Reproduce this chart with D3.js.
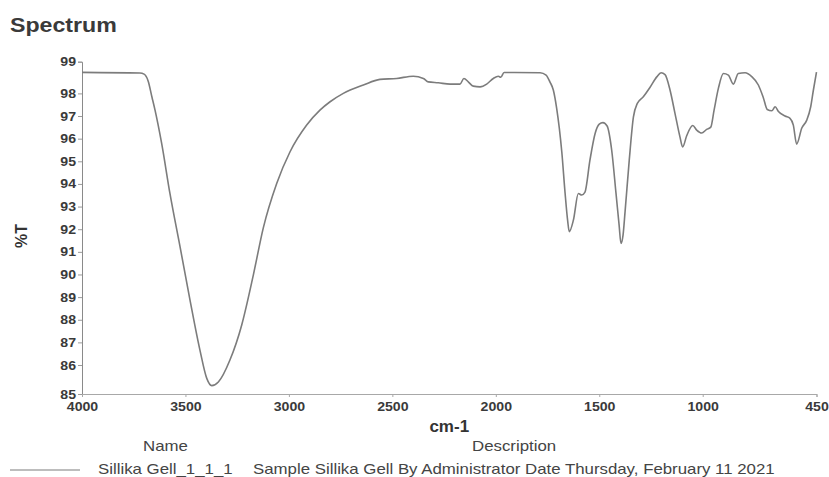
<!DOCTYPE html>
<html>
<head>
<meta charset="utf-8">
<script src="https://cdn.jsdelivr.net/npm/d3@7"></script>
<style>
  html, body { margin: 0; padding: 0; background: #fff; }
  svg { display: block; font-family: "Liberation Sans", Arial, sans-serif; }
</style>
</head>
<body>
<svg id="chart" width="829" height="477"></svg>
<script>
// ---- data ----
const wavenumbers = [4000, 3720, 3700, 3680, 3662, 3647, 3615, 3575, 3526, 3478, 3430, 3397, 3373, 3341, 3285, 3228, 3172, 3124, 3059, 2995, 2914, 2850, 2801, 2737, 2640, 2560, 2479, 2399, 2350, 2326, 2278, 2221, 2173, 2154, 2133, 2109, 2076, 2044, 2012, 1988, 1976, 1960, 1915, 1786, 1757, 1738, 1722, 1706, 1681, 1665, 1653, 1645, 1625, 1601, 1585, 1569, 1545, 1520, 1500, 1482, 1462, 1440, 1419, 1404, 1395, 1385, 1375, 1355, 1335, 1316, 1287, 1255, 1222, 1201, 1182, 1158, 1134, 1110, 1097, 1077, 1048, 1029, 1005, 981, 961, 945, 924, 900, 876, 852, 828, 795, 763, 731, 707, 688, 666, 650, 634, 602, 578, 562, 546, 521, 497, 478, 465, 450];
const transmittance = [98.93, 98.90, 98.85, 98.54, 97.84, 97.26, 95.79, 93.58, 91.22, 88.87, 86.66, 85.41, 85.09, 85.25, 86.22, 87.77, 89.97, 92.05, 94.02, 95.41, 96.60, 97.26, 97.63, 98.00, 98.37, 98.62, 98.66, 98.76, 98.66, 98.51, 98.47, 98.41, 98.41, 98.66, 98.51, 98.32, 98.29, 98.41, 98.66, 98.76, 98.71, 98.92, 98.92, 98.91, 98.81, 98.50, 98.15, 97.35, 95.41, 93.58, 92.40, 91.89, 92.40, 93.58, 93.51, 93.64, 95.05, 96.23, 96.64, 96.71, 96.56, 95.50, 93.58, 92.18, 91.37, 91.74, 92.80, 95.05, 96.95, 97.56, 97.85, 98.26, 98.73, 98.91, 98.83, 98.15, 97.12, 96.08, 95.63, 96.14, 96.58, 96.38, 96.25, 96.41, 96.51, 97.26, 98.23, 98.88, 98.81, 98.41, 98.88, 98.91, 98.74, 98.37, 97.81, 97.29, 97.23, 97.41, 97.20, 97.00, 96.90, 96.60, 95.76, 96.47, 96.82, 97.41, 98.15, 98.94];

const xDomain = [4000, 450];
const yDomain = [84.72, 99.4];
const xTickValues = [4000, 3500, 3000, 2500, 2000, 1500, 1000, 450];
const yTickValues = [84.72, 86, 87, 88, 89, 90, 91, 92, 93, 94, 95, 96, 97, 98, 99.4];
const yTickLabels = ["85", "86", "87", "88", "89", "90", "91", "92", "93", "94", "95", "96", "97", "98", "99"];

const titleText = "Spectrum";
const xAxisTitle = "cm-1";
const yAxisTitle = "%T";
const legendHeaders = ["Name", "Description"];
const legendName = "Sillika Gell_1_1_1";
const legendDescription = "Sample Sillika Gell By Administrator Date Thursday, February 11 2021";

// ---- drawing ----
(function () {
const svg = d3.select("#chart");
const plotLeft = 82, plotRight = 816.5, plotTop = 61.7, plotBottom = 394;
const stretch = 1.13; // the reference text is slightly wide

const x = d3.scaleLinear().domain(xDomain).range([plotLeft, plotRight]);
const y = d3.scaleLinear().domain(yDomain).range([plotBottom, plotTop]);

function wide(sel, k) {
  const f = k || stretch;
  sel.each(function () {
    const len = this.getComputedTextLength();
    d3.select(this).attr("textLength", len * f).attr("lengthAdjust", "spacingAndGlyphs");
  });
}

// title
svg.append("text")
  .attr("x", 10).attr("y", 32)
  .attr("font-size", 20.5).attr("font-weight", "bold").attr("fill", "#3a3a3a")
  .text(titleText).call(wide);

// y axis
const yAxis = d3.axisLeft(y)
  .tickValues(yTickValues)
  .tickFormat((d, i) => yTickLabels[i])
  .tickSize(4).tickPadding(2);
const gy = svg.append("g").attr("transform", `translate(${plotLeft},0)`).call(yAxis);
gy.select(".domain").attr("stroke", "#8a8a8a");
gy.selectAll(".tick line").attr("stroke", "#9a9a9a");
gy.selectAll(".tick text")
  .attr("font-size", 12.5).attr("font-weight", "bold").attr("fill", "#3a3a3a")
  .attr("font-family", "'Liberation Sans', Arial, sans-serif")
  .call(wide);

// x axis
const xAxis = d3.axisBottom(x)
  .tickValues(xTickValues)
  .tickFormat(d3.format("d"))
  .tickSize(3).tickPadding(5);
const gx = svg.append("g").attr("transform", `translate(0,${plotBottom})`).call(xAxis);
gx.select(".domain").attr("stroke", "#a8a8a8");
gx.selectAll(".tick line").attr("stroke", "#a8a8a8");
gx.selectAll(".tick text")
  .attr("font-size", 12.5).attr("font-weight", "bold").attr("fill", "#3a3a3a")
  .attr("font-family", "'Liberation Sans', Arial, sans-serif")
  .call(wide);

// axis titles
svg.append("text")
  .attr("x", (plotLeft + plotRight) / 2).attr("y", 432)
  .attr("text-anchor", "middle")
  .attr("font-size", 17).attr("font-weight", "bold").attr("fill", "#333")
  .text(xAxisTitle);

svg.append("text")
  .attr("transform", "translate(27,236) rotate(-90)")
  .attr("text-anchor", "middle")
  .attr("font-size", 16).attr("font-weight", "bold").attr("fill", "#333")
  .text(yAxisTitle);

// spectrum line
const pts = wavenumbers.map((w, i) => [w, transmittance[i]]);
const line = d3.line()
  .x(d => x(d[0]))
  .y(d => y(d[1]))
  .curve(d3.curveMonotoneX);
svg.append("path")
  .datum(pts)
  .attr("d", line)
  .attr("fill", "none")
  .attr("stroke", "#7c7c7c")
  .attr("stroke-width", 1.6)
  .attr("stroke-linejoin", "round");

// legend
const fs = 14.5, legStretch = 1.16;
svg.append("text").attr("x", 143).attr("y", 451)
  .attr("font-size", fs).attr("fill", "#444").text(legendHeaders[0]).call(wide, legStretch);
svg.append("text").attr("x", 472).attr("y", 451)
  .attr("font-size", fs).attr("fill", "#444").text(legendHeaders[1]).call(wide, legStretch);
svg.append("line")
  .attr("x1", 10).attr("x2", 80).attr("y1", 470).attr("y2", 470)
  .attr("stroke", "#7c7c7c").attr("stroke-width", 1.2);
svg.append("text").attr("x", 98).attr("y", 474)
  .attr("font-size", fs).attr("fill", "#444").text(legendName).call(wide, legStretch);
svg.append("text").attr("x", 253).attr("y", 474)
  .attr("font-size", fs).attr("fill", "#444").text(legendDescription).call(wide, legStretch);
})();
</script>
</body>
</html>
